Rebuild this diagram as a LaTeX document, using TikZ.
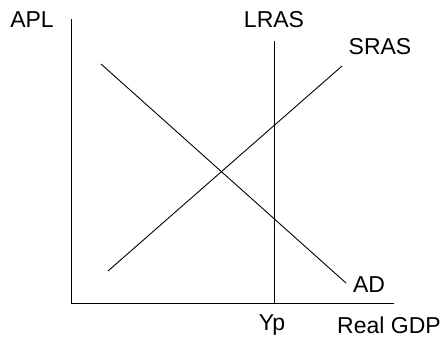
\documentclass[tikz,border=0pt]{standalone}
\usepackage{fontspec}
\setmainfont{Liberation Sans}
\begin{document}
\begin{tikzpicture}[x=1pt,y=-1pt,
  lbl/.style={inner sep=0pt,font=\fontsize{23}{26}\selectfont},
  ln/.style={line width=0.9pt}]
\useasboundingbox (0,0) rectangle (446,340);
\coordinate (ytop) at (71,19);
\coordinate (orig) at (71,303);
\coordinate (xend) at (394,303);
\coordinate (lrtop) at (274,41);
\coordinate (lrbot) at (274,303);
\coordinate (s1) at (108,271);
\coordinate (s2) at (342,66);
\coordinate (a1) at (101,64);
\coordinate (a2) at (346,283);
\draw[ln] (ytop) -- (orig) -- (xend);
\draw[ln] (lrtop) -- (lrbot);
\draw[ln] (s1) -- (s2);
\draw[ln] (a1) -- (a2);
\node[lbl] (apl) at (32,20) {APL};
\node[lbl] (lras) at (274,20) {LRAS};
\node[lbl] (sras) at (380,47) {SRAS};
\node[lbl] (ad) at (369,285) {AD};
\node[lbl] (yp) at (272,325) {Yp};
\node[lbl] (gdp) at (389,325) {Real GDP};
\end{tikzpicture}
\end{document}
